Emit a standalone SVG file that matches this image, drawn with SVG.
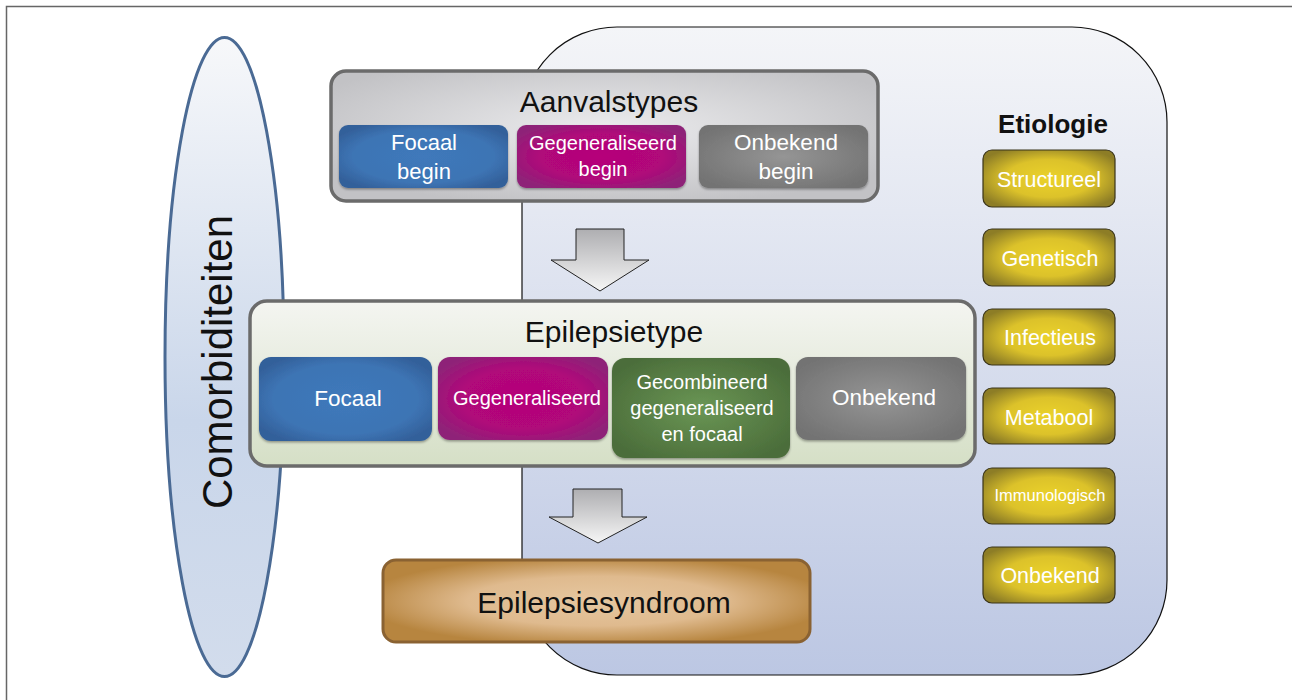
<svg xmlns="http://www.w3.org/2000/svg" width="1292" height="700" viewBox="0 0 1292 700">
<defs>
<linearGradient id="gEtio" x1="0" y1="0" x2="0" y2="1">
<stop offset="0" stop-color="#f4f5f8"/><stop offset="1" stop-color="#bcc7e3"/>
</linearGradient>
<linearGradient id="gEll" x1="0" y1="0" x2="0" y2="1">
<stop offset="0" stop-color="#f7f8fa"/><stop offset="0.6" stop-color="#c9d6ea"/><stop offset="1" stop-color="#d2dcec"/>
</linearGradient>
<radialGradient id="gAanv" cx="0.5" cy="0.45" r="0.6">
<stop offset="0" stop-color="#ececee"/><stop offset="1" stop-color="#c2c2c5"/>
</radialGradient>
<linearGradient id="gEpi" x1="0" y1="0" x2="0" y2="1">
<stop offset="0" stop-color="#f4f5f1"/><stop offset="1" stop-color="#d5dfc6"/>
</linearGradient>
<radialGradient id="gSyn" cx="0.5" cy="0.5" r="0.55">
<stop offset="0" stop-color="#e6c7a0"/><stop offset="0.55" stop-color="#dfba8e"/><stop offset="1" stop-color="#b7853f"/>
</radialGradient>
<radialGradient id="gBlue" cx="0.5" cy="0.5" r="0.6">
<stop offset="0" stop-color="#3f79bb"/><stop offset="0.7" stop-color="#3d74b4"/><stop offset="1" stop-color="#33609a"/>
</radialGradient>
<radialGradient id="gMag" cx="0.5" cy="0.5" r="0.6">
<stop offset="0" stop-color="#b6057a"/><stop offset="0.6" stop-color="#b0077a"/><stop offset="1" stop-color="#8e2478"/>
</radialGradient>
<radialGradient id="gGray" cx="0.5" cy="0.5" r="0.6">
<stop offset="0" stop-color="#959595"/><stop offset="1" stop-color="#737373"/>
</radialGradient>
<radialGradient id="gGreen" cx="0.5" cy="0.5" r="0.6">
<stop offset="0" stop-color="#6a9655"/><stop offset="1" stop-color="#4b6d3a"/>
</radialGradient>
<radialGradient id="gYel" cx="0.5" cy="0.5" r="0.6">
<stop offset="0" stop-color="#ebd22a"/><stop offset="0.55" stop-color="#dcc22a"/><stop offset="1" stop-color="#8d7d26"/>
</radialGradient>
<linearGradient id="gArrow" x1="0" y1="0" x2="0" y2="1">
<stop offset="0" stop-color="#aeaeb1"/><stop offset="1" stop-color="#f6f6f6"/>
</linearGradient>
<filter id="sh" x="-10%" y="-10%" width="120%" height="130%">
<feDropShadow dx="0" dy="1.5" stdDeviation="1" flood-color="#000" flood-opacity="0.35"/>
</filter>
</defs>
<style>
text{font-family:"Liberation Sans",Arial,Helvetica,sans-serif;}
.t{fill:#111;text-anchor:middle;}
.w{fill:#fff;text-anchor:middle;}
.outer{stroke-width:3.5;}
.sub{stroke:none;filter:url(#sh);}
.yel{fill:url(#gYel);stroke:#3a3418;stroke-width:1.2;}
.arrow{fill:url(#gArrow);stroke:#222;stroke-width:1;}
</style>

<g id="frame">
<path d="M6.5 700 V6.5 H1292" fill="none" stroke="#666" stroke-width="1.5"/>
</g>

<g id="etiologie">
<rect x="522" y="27" width="645" height="648" rx="95" ry="95" fill="url(#gEtio)" stroke="#111" stroke-width="1.2"/>
<text x="1053" y="133" class="t" font-size="26" font-weight="bold">Etiologie</text>
</g>

<g id="comorbiditeiten">
<ellipse cx="224.5" cy="357" rx="59.5" ry="319.5" fill="url(#gEll)" stroke="#4a6a94" stroke-width="3"/>
<text transform="translate(232,362) rotate(-90)" class="t" font-size="42">Comorbiditeiten</text>
</g>

<g id="aanvalstypes">
<rect x="331" y="71" width="547" height="130" rx="15" fill="url(#gAanv)" stroke="#6b6b6b" class="outer"/>
<text x="609" y="112" class="t" font-size="30">Aanvalstypes</text>
</g>
<g id="a-focaal">
<rect x="339" y="125" width="169" height="63" rx="9" fill="url(#gBlue)" class="sub"/>
<text x="424" y="150" class="w" font-size="22">Focaal</text>
<text x="424" y="179" class="w" font-size="22">begin</text>
</g>
<g id="a-gegeneraliseerd">
<rect x="517" y="125" width="169" height="63" rx="9" fill="url(#gMag)" class="sub"/>
<text x="603" y="150" class="w" font-size="20">Gegeneraliseerd</text>
<text x="603" y="176" class="w" font-size="20">begin</text>
</g>
<g id="a-onbekend">
<rect x="699" y="125" width="169" height="63" rx="9" fill="url(#gGray)" class="sub"/>
<text x="786" y="150" class="w" font-size="22.5">Onbekend</text>
<text x="786" y="179" class="w" font-size="22.5">begin</text>
</g>

<g id="epilepsietype">
<rect x="250" y="301" width="725" height="165" rx="17" fill="url(#gEpi)" stroke="#6b6b6b" class="outer"/>
<text x="614" y="342" class="t" font-size="30">Epilepsietype</text>
</g>
<g id="e-focaal">
<rect x="259" y="357" width="173" height="84" rx="12" fill="url(#gBlue)" class="sub"/>
<text x="348" y="406" class="w" font-size="22.5">Focaal</text>
</g>
<g id="e-gegeneraliseerd">
<rect x="438" y="357" width="170" height="83" rx="12" fill="url(#gMag)" class="sub"/>
<text x="527" y="405" class="w" font-size="20">Gegeneraliseerd</text>
</g>
<g id="e-gecombineerd">
<rect x="612" y="358" width="178" height="100" rx="13" fill="url(#gGreen)" class="sub"/>
<text x="702" y="389" class="w" font-size="20">Gecombineerd</text>
<text x="702" y="415" class="w" font-size="20">gegeneraliseerd</text>
<text x="702" y="441" class="w" font-size="20">en focaal</text>
</g>
<g id="e-onbekend">
<rect x="796" y="357" width="170" height="83" rx="12" fill="url(#gGray)" class="sub"/>
<text x="884" y="405" class="w" font-size="22.5">Onbekend</text>
</g>

<g id="epilepsiesyndroom">
<rect x="383" y="560" width="427" height="82" rx="13" fill="url(#gSyn)" stroke="#8a6232" stroke-width="3"/>
<text x="604" y="613" class="t" font-size="30">Epilepsiesyndroom</text>
</g>

<g id="et-structureel"><rect x="983" y="150" width="132" height="57" rx="9" class="yel"/><text x="1049" y="187" class="w" font-size="21.5">Structureel</text></g>
<g id="et-genetisch"><rect x="983" y="229" width="132" height="57" rx="9" class="yel"/><text x="1050" y="266" class="w" font-size="21.5">Genetisch</text></g>
<g id="et-infectieus"><rect x="983" y="309" width="132" height="56" rx="9" class="yel"/><text x="1050" y="345" class="w" font-size="21.5">Infectieus</text></g>
<g id="et-metabool"><rect x="983" y="388" width="132" height="56" rx="9" class="yel"/><text x="1049" y="425" class="w" font-size="21.5">Metabool</text></g>
<g id="et-immunologisch"><rect x="983" y="468" width="132" height="56" rx="9" class="yel"/><text x="1050" y="501" class="w" font-size="16.5">Immunologisch</text></g>
<g id="et-onbekend"><rect x="983" y="547" width="132" height="56" rx="9" class="yel"/><text x="1050" y="583" class="w" font-size="21.5">Onbekend</text></g>

<g id="connectors">
<path class="arrow" d="M576 229 H624 V260 H649 L600 291 L551 260 H576 Z"/>
<path class="arrow" d="M573 489 H622 V517 H647 L598 543 L549 517 H573 Z"/>
</g>
</svg>
